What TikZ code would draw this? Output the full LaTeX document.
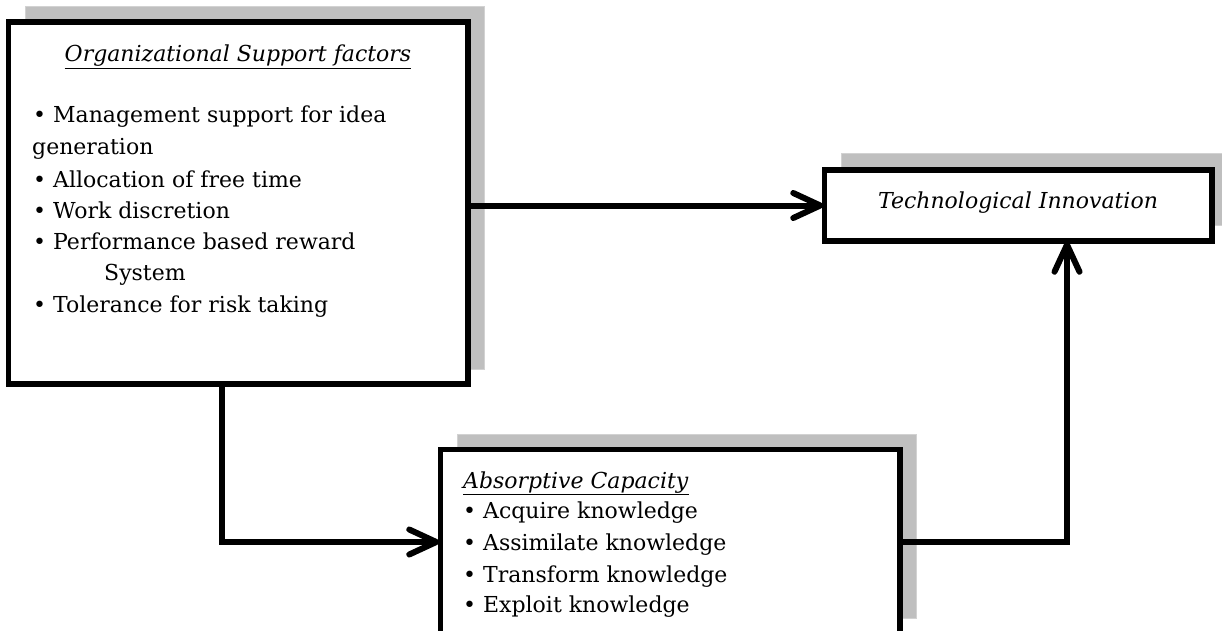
\documentclass[tikz,border=0pt]{standalone}
\usepackage{fontspec}
\setmainfont{DejaVu Serif}
\usetikzlibrary{arrows.meta}
\tikzset{
  box/.style={draw=black, line width=3.5pt, fill=white, rectangle, inner sep=0pt},
  shadowbox/.style={fill=gray, fill opacity=0.5, draw=gray!35, line width=1pt},
  conn/.style={line width=6pt, line join=miter,
    -{Straight Barb[length=27pt, width=25pt, line cap=round, line join=round]}},
  txt/.style={anchor=base west, inner sep=0pt, font=\fontsize{22}{26}\selectfont},
}
\begin{document}
\begin{tikzpicture}[x=1pt, y=-1pt]
\useasboundingbox (0,0) rectangle (1222,631);
\clip (0,0) rectangle (1222,631);
% background and shadows
\fill[white] (0,0) rectangle (1222,631);
\draw[shadowbox] (25,7) rectangle (484,369);
\draw[shadowbox] (841,154) rectangle (1226,225);
\draw[shadowbox] (457,434) rectangle (916,618);
% boxes
\node[box, minimum width=458pt, minimum height=360pt] (b1) at (238,203) {};
\node[box, minimum width=386pt, minimum height=69pt] (b2) at (1018,205.5) {};
\node[box, minimum width=458pt, minimum height=184pt] (b3) at (670,542) {};
% connectors
\draw[conn] (b1.east |- b2.west) -- (b2.west);
\draw[conn] ([xshift=-16pt]b1.south) |- (b3.west);
\draw[conn] (b3.east) -| ([xshift=49pt]b2.south);
% redraw box borders on top
\draw[line width=3.5pt] (b1.south west) rectangle (b1.north east);
\draw[line width=3.5pt] (b2.south west) rectangle (b2.north east);
\draw[line width=3.5pt] (b3.south west) rectangle (b3.north east);
% texts box 1
\node[txt, anchor=base] (t1) at (238,62) {\underline{\textit{Organizational Support factors}}};
\node[txt] (t1a) at (33,123) {• Management support for idea};
\node[txt] (t1b) at (32,155) {generation};
\node[txt] (t1c) at (33,187) {• Allocation of free time};
\node[txt] (t1d) at (33,218) {• Work discretion};
\node[txt] (t1e) at (33,249) {• Performance based reward};
\node[txt] (t1f) at (104,280) {System};
\node[txt] (t1g) at (33,312) {• Tolerance for risk taking};
% box 2
\node[txt, anchor=base] (t2) at (1018,208) {\textit{Technological Innovation}};
% box 3
\node[txt] (t3) at (463,488) {\underline{\textit{Absorptive Capacity}}};
\node[txt] (t3a) at (463,518) {• Acquire knowledge};
\node[txt] (t3b) at (463,550) {• Assimilate knowledge};
\node[txt] (t3c) at (463,582) {• Transform knowledge};
\node[txt] (t3d) at (463,612) {• Exploit knowledge};
\end{tikzpicture}
\end{document}
